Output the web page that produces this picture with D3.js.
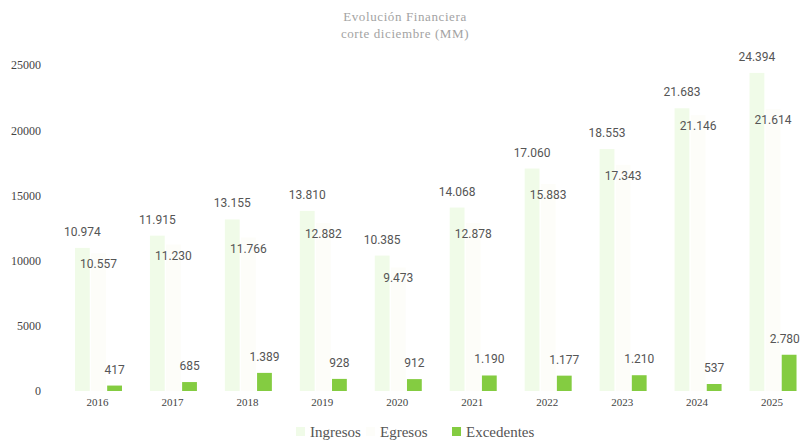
<!DOCTYPE html>
<html><head><meta charset="utf-8">
<script src="https://cdn.jsdelivr.net/npm/d3@7"></script>
<style>body{margin:0;background:#fff} .serif{font-family:'Liberation Serif','DejaVu Serif','Times New Roman',serif !important}</style>
</head><body>
<svg id="c" width="801" height="443"></svg>
<script>
const years = ["2016","2017","2018","2019","2020","2021","2022","2023","2024","2025"];
const ingresos = [10974, 11915, 13155, 13810, 10385, 14068, 17060, 18553, 21683, 24394];
const egresos = [10557, 11230, 11766, 12882, 9473, 12878, 15883, 17343, 21146, 21614];
const excedentes = [417, 685, 1389, 928, 912, 1190, 1177, 1210, 537, 2780];
const yTicks = [0, 5000, 10000, 15000, 20000, 25000];
const seriesNames = ["Ingresos", "Egresos", "Excedentes"];
const seriesColors = ["#f0fbe8", "#fdfdf9", "#84cc41"];

const SERIF = "'Liberation Serif', 'DejaVu Serif', 'Times New Roman', serif";
const SANS = "Roboto, 'Noto Sans', sans-serif";

const svg = d3.select("#c");
const loc = d3.formatLocale({decimal: ",", thousands: ".", grouping: [3], currency: ["", ""]});
const fmt = loc.format(",d");

const y = d3.scaleLinear().domain([0, 25000]).range([391, 65]);
const x = d3.scaleBand().domain(years).range([61, 810.5]);
const inner = d3.scaleBand().domain(seriesNames).range([0, 47]).paddingInner(0.08);

// title
svg.append("text").attr("class", "serif").attr("x", 405).attr("y", 21).attr("text-anchor", "middle")
  .attr("font-size", 13).attr("fill", "#a3a3a3")
  .attr("letter-spacing", 0.6).text("Evolución Financiera");
svg.append("text").attr("class", "serif").attr("x", 405).attr("y", 38).attr("text-anchor", "middle")
  .attr("font-size", 13).attr("fill", "#a3a3a3")
  .attr("letter-spacing", 0.6).text("corte diciembre (MM)");

// y axis
const yAxis = d3.axisLeft(y).tickValues(yTicks).tickSize(0).tickPadding(0).tickFormat(d3.format("d"));
const ya = svg.append("g").attr("transform", "translate(41,0)").call(yAxis);
ya.attr("font-family", SERIF);
ya.select(".domain").remove();
ya.selectAll("text").attr("class", "serif").attr("font-size", 12).attr("fill", "#444");

// x axis
const xAxis = d3.axisBottom(x).tickSize(0).tickPadding(0);
const xa = svg.append("g").attr("transform", "translate(-1,398)").call(xAxis);
xa.attr("font-family", SERIF);
xa.select(".domain").remove();
xa.selectAll("text").attr("class", "serif").attr("font-size", 11).attr("fill", "#444");

const data = years.map((yr, i) => ({yr, vals: [ingresos[i], egresos[i], excedentes[i]]}));
const groupOff = -23.5;
const g = svg.append("g");
data.forEach(d => {
  const cx = x(d.yr) + x.bandwidth() / 2 + groupOff;
  d.vals.forEach((v, k) => {
    const name = seriesNames[k];
    const bx = cx + inner(name);
    g.append("rect").attr("x", bx).attr("y", y(v)).attr("width", inner.bandwidth())
      .attr("height", y(0) - y(v)).attr("fill", seriesColors[k]);
    const ly = k === 1 ? y(v) + 15 : y(v) - 12;
    const t = g.append("text").attr("x", bx + inner.bandwidth() / 2).attr("y", ly)
      .attr("text-anchor", "middle").style("font-family", SANS).attr("font-size", 12)
      .attr("fill", "#555").text(fmt(v));
    const bb = t.node().getBBox();
    if (bb.x + bb.width > 800) t.attr("x", 800 - bb.width / 2);
  });
});

// legend
const legendX = [296, 366, 452];
const lg = svg.append("g");
seriesNames.forEach((n, k) => {
  lg.append("rect").attr("x", legendX[k]).attr("y", 427).attr("width", 9).attr("height", 9)
    .attr("fill", seriesColors[k]);
  lg.append("text").attr("class", "serif").attr("x", legendX[k] + 14).attr("y", 437)
    .attr("font-size", 15).attr("fill", "#555").text(n);
});
</script>
</body></html>
